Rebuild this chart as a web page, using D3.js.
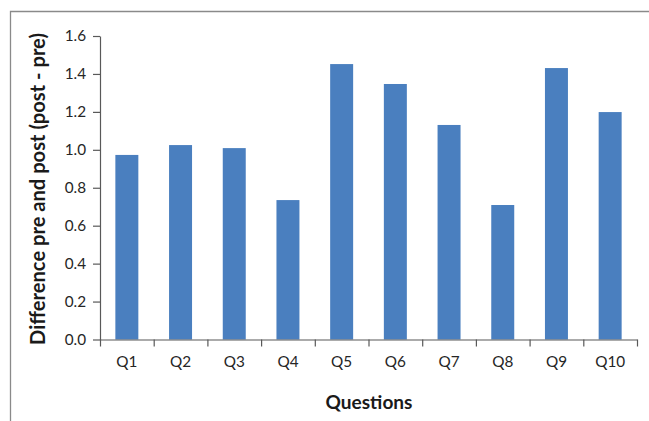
<!DOCTYPE html>
<html>
<head>
<meta charset="utf-8">
<script src="https://cdn.jsdelivr.net/npm/d3@7"></script>
<style>
  body { margin: 0; background: #fff; }
  text { font-family: Lato, "Open Sans", sans-serif; }
</style>
</head>
<body>
<div id="chart"></div>
<script>
// Data
var questions = ["Q1", "Q2", "Q3", "Q4", "Q5", "Q6", "Q7", "Q8", "Q9", "Q10"];
var differences = [0.973, 1.025, 1.009, 0.735, 1.452, 1.347, 1.131, 0.709, 1.431, 1.199];
var yTicks = [0, 0.2, 0.4, 0.6, 0.8, 1.0, 1.2, 1.4, 1.6];

var svgWidth = 649;
var svgHeight = 421;

// plot area in page pixels
var margin = { top: 36, right: 12, bottom: 81.5, left: 100 };
var width = svgWidth - margin.left - margin.right;
var height = svgHeight - margin.top - margin.bottom;

var svg = d3.select("#chart")
  .append("svg")
  .attr("width", svgWidth)
  .attr("height", svgHeight);

// outer frame (cut off at right and bottom)
svg.append("path")
  .attr("d", "M10.5," + svgHeight + "V11.5H" + svgWidth)
  .attr("fill", "none")
  .attr("stroke", "#8a8a8a")
  .attr("stroke-width", 1.3);

var chartGroup = svg.append("g")
  .attr("transform", `translate(${margin.left}, ${margin.top})`);

var x = d3.scaleBand()
  .domain(questions)
  .range([0, width])
  .paddingInner(0.572)
  .paddingOuter(0.286);

var y = d3.scaleLinear()
  .domain([0, 1.6])
  .range([height, 0]);

// bars
chartGroup.selectAll(".bar")
  .data(differences)
  .enter()
  .append("rect")
  .attr("class", "bar")
  .attr("x", (d, i) => x(questions[i]))
  .attr("width", x.bandwidth())
  .attr("y", d => y(d))
  .attr("height", d => height - y(d))
  .attr("fill", "#4a7fbf");

// y axis
var leftAxis = d3.axisLeft(y)
  .tickValues(yTicks)
  .tickFormat(d3.format(".1f"))
  .tickSize(7)
  .tickSizeOuter(0)
  .tickPadding(7);

var yAxisG = chartGroup.append("g").call(leftAxis);

// x axis: category boundary ticks
var xEdges = d3.scaleLinear().domain([0, questions.length]).range([0, width]);
var edgeAxis = d3.axisBottom(xEdges)
  .ticks(questions.length)
  .tickFormat("")
  .tickSize(7)
  .tickSizeOuter(0);

var xEdgeG = chartGroup.append("g")
  .attr("transform", `translate(0, ${height})`)
  .call(edgeAxis);

// x axis: category labels
var bottomAxis = d3.axisBottom(x).tickSize(0).tickPadding(17);
var xLabelG = chartGroup.append("g")
  .attr("transform", `translate(0, ${height})`)
  .call(bottomAxis);
xLabelG.select(".domain").remove();

[yAxisG, xEdgeG].forEach(function(g) {
  g.selectAll("path, line").attr("stroke", "#595959").attr("stroke-width", 1.2);
});

// size tick labels so "Q10" is as wide as in the picture
var q10 = xLabelG.selectAll("text").filter(d => d === "Q10").style("font-size", "16px");
var tickSize = 16 * 30 / q10.node().getComputedTextLength();
[yAxisG, xLabelG].forEach(function(g) {
  g.selectAll("text")
    .style("font-family", "Lato, 'Open Sans', sans-serif")
    .style("font-size", tickSize + "px")
    .attr("fill", "#262626");
});

// axis titles, sized to the lengths seen in the picture
function fitText(sel, target) {
  var len = sel.node().getComputedTextLength();
  sel.attr("font-size", 16 * target / len);
}

var yTitle = svg.append("text")
  .attr("transform", "translate(45, 189) rotate(-90)")
  .attr("text-anchor", "middle")
  .attr("font-size", 16)
  .attr("font-weight", "bold")
  .attr("fill", "#1a1a1a")
  .text("Difference pre and post (post - pre)");
fitText(yTitle, 312);

var xTitle = svg.append("text")
  .attr("x", 369)
  .attr("y", 409)
  .attr("text-anchor", "middle")
  .attr("font-size", 16)
  .attr("font-weight", "bold")
  .attr("fill", "#1a1a1a")
  .text("Questions");
fitText(xTitle, 87);
</script>
</body>
</html>
